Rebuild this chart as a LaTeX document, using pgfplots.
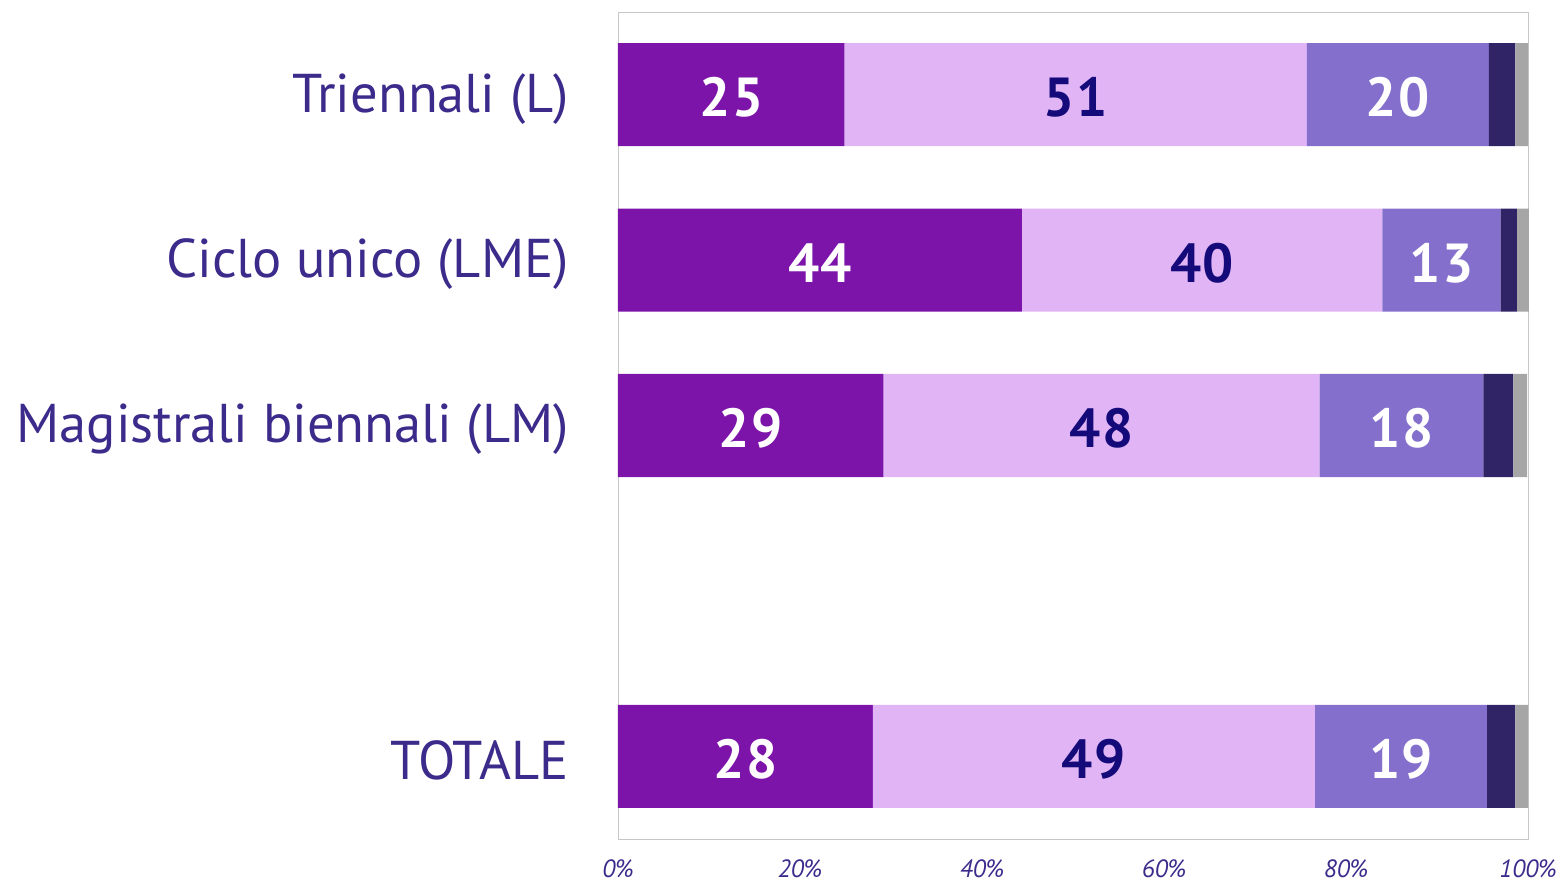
\documentclass[border=0pt]{standalone}
\usepackage{pgfplots}
\pgfplotsset{compat=1.18}
\usepackage{graphicx}
\usepackage{fontspec}
\setmainfont{PT Sans}
\definecolor{c1}{HTML}{7D14AA}
\definecolor{c2}{HTML}{E1B4F5}
\definecolor{c3}{HTML}{8470CC}
\definecolor{c4}{HTML}{302466}
\definecolor{c5}{HTML}{A6A6A6}
\definecolor{labc}{HTML}{3D2B8C}
\definecolor{navy}{HTML}{140A7A}
\tikzset{lab/.style={font=\fontsize{27.5}{27.5}\selectfont\bfseries\addfontfeatures{LetterSpace=3}, yshift=-1.5pt}}
\begin{document}
\begin{tikzpicture}
\useasboundingbox (-309pt,-22pt) rectangle (472pt,419.5pt);
\begin{axis}[
  reverse stacked plots=false,
  at={(0pt,0pt)}, anchor=south west, scale only axis,
  width=455pt, height=413.5pt,
  xmin=0, xmax=100, ymin=-0.5, ymax=4.5, y dir=reverse,
  xbar stacked, bar width=0.623,
  ytick={0,1,2,4},
  yticklabels={Triennali (L), Ciclo unico (LME), Magistrali biennali (LM), TOTALE},
  yticklabel style={font=\fontsize{27.3}{27.3}\selectfont, text=labc, xshift=-21pt, yshift=-2pt},
  xtick={0,20,40,60,80,100},
  xticklabels={0\%,20\%,40\%,60\%,80\%,100\%},
  xticklabel style={font=\fontsize{12.5}{12.5}\selectfont\itshape, text=labc, yshift=-7pt},
  major tick length=0pt,
  axis line style={draw=black!22},
  clip=false,
]
\addplot[fill=c1, draw=none] coordinates {(24.9,0) (44.4,1) (29.2,2) (28.0,4)};
\addplot[fill=c2, draw=none] coordinates {(50.8,0) (39.6,1) (47.9,2) (48.6,4)};
\addplot[fill=c3, draw=none] coordinates {(20.0,0) (13.0,1) (18.0,2) (18.9,4)};
\addplot[fill=c4, draw=none] coordinates {(2.9,0) (1.8,1) (3.3,2) (3.1,4)};
\addplot[fill=c5, draw=none] coordinates {(1.4,0) (1.3,1) (1.5,2) (1.4,4)};
\node[lab, text=white] at (axis cs:12.45,0) {25};
\node[lab, text=navy] at (axis cs:50.3,0) {51};
\node[lab, text=white] at (axis cs:85.7,0) {20};
\node[lab, text=white] at (axis cs:22.2,1) {44};
\node[lab, text=navy] at (axis cs:64.2,1) {40};
\node[lab, text=white] at (axis cs:90.5,1) {13};
\node[lab, text=white] at (axis cs:14.6,2) {29};
\node[lab, text=navy] at (axis cs:53.15,2) {48};
\node[lab, text=white] at (axis cs:86.1,2) {18};
\node[lab, text=white] at (axis cs:14.0,4) {28};
\node[lab, text=navy] at (axis cs:52.3,4) {49};
\node[lab, text=white] at (axis cs:86.05,4) {19};
\end{axis}
\end{tikzpicture}
\end{document}
